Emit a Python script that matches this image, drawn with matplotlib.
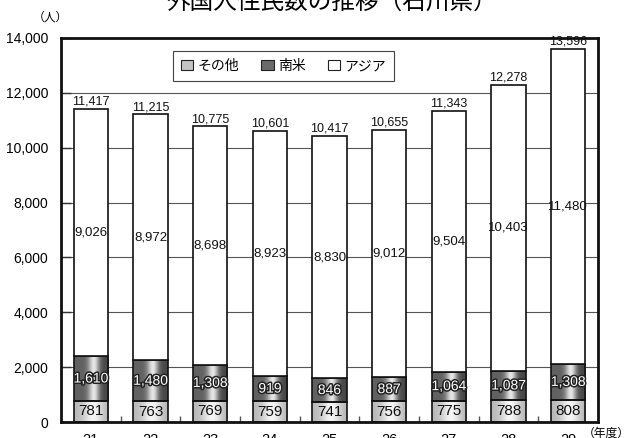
import numpy as np
import matplotlib
matplotlib.use("Agg")
import matplotlib.pyplot as plt
import matplotlib.patheffects as pe
from matplotlib.patches import Patch

plt.rcParams['font.family'] = ['Liberation Sans', 'Noto Sans CJK JP', 'DejaVu Sans']

# ---- data ----
years = ["21", "22", "23", "24", "25", "26", "27", "28", "29"]
other = [781, 763, 769, 759, 741, 756, 775, 788, 808]
south_america = [1610, 1480, 1308, 919, 846, 887, 1064, 1087, 1308]
asia = [9026, 8972, 8698, 8923, 8830, 9012, 9504, 10403, 11480]
series_names = ["その他", "南米", "アジア"]
yticks = [0, 2000, 4000, 6000, 8000, 10000, 12000, 14000]

title = "外国人住民数の推移（石川県）"

W, H = 624, 438
fig = plt.figure(figsize=(W / 100, H / 100), dpi=100)
ax = fig.add_axes([61 / W, 16 / H, 537 / W, 384 / H])

x = np.arange(len(years))
other_a = np.array(other)
sa_a = np.array(south_america)
asia_a = np.array(asia)
totals = other_a + sa_a + asia_a
bw = 0.57


def gradient(bars, dark, light, center=0.55, sigma=0.2, dark_r=None):
    if dark_r is None:
        dark_r = dark
    t = np.linspace(0, 1, 64)
    g = np.exp(-((t - center) / sigma) ** 2)
    edge = np.where(t < center, dark, dark_r)
    vals = edge + (light - edge) * g
    img = np.repeat(vals[None, :], 2, axis=0)
    for b in bars:
        x0, y0 = b.get_x(), b.get_y()
        w, h = b.get_width(), b.get_height()
        ax.imshow(img, extent=[x0, x0 + w, y0, y0 + h], aspect='auto',
                  cmap='gray', vmin=0, vmax=1, zorder=2, interpolation='bilinear')


b_other = ax.bar(x, other_a, bw, facecolor='none', edgecolor='#111111', linewidth=1.2, zorder=3)
b_sa = ax.bar(x, sa_a, bw, bottom=other_a, facecolor='none', edgecolor='#111111', linewidth=1.2, zorder=3)
b_asia = ax.bar(x, asia_a, bw, bottom=other_a + sa_a, facecolor='white', edgecolor='#111111', linewidth=1.2, zorder=3)

gradient(b_other, 0.72, 0.96, center=0.55, sigma=0.28, dark_r=0.70)
gradient(b_sa, 0.38, 0.90, center=0.57, sigma=0.16, dark_r=0.28)

# labels
for i in range(len(years)):
    ax.text(x[i], other_a[i] / 2, f"{other_a[i]:,}", ha='center', va='center',
            fontsize=11, color='#111111', zorder=4)
    ax.text(x[i], other_a[i] + sa_a[i] / 2, f"{sa_a[i]:,}", ha='center', va='center',
            fontsize=10, color='white', zorder=4,
            path_effects=[pe.withStroke(linewidth=2.2, foreground='#222222')])
    ax.text(x[i], other_a[i] + sa_a[i] + asia_a[i] / 2, f"{asia_a[i]:,}", ha='center',
            va='center', fontsize=9.5, color='#111111', zorder=4)
    ax.text(x[i], totals[i] + 50, f"{totals[i]:,}", ha='center', va='bottom',
            fontsize=9, color='#111111', zorder=4)

ax.set_xlim(-0.5, len(years) - 0.5)
ax.set_ylim(0, 14000)
ax.set_yticks(yticks)
ax.set_yticklabels([f"{v:,}" for v in yticks], fontsize=10)
ax.set_xticks(x)
ax.set_xticklabels(years, fontsize=10.5)
ax.set_xticks(np.arange(len(years) - 1) + 0.5, minor=True)
ax.tick_params(axis='x', which='major', length=0, pad=8)
ax.tick_params(axis='x', which='minor', direction='in', length=4, width=1, color='#555555')
ax.tick_params(axis='y', which='major', direction='in', length=7, width=1, pad=9, color='#333333')

ax.yaxis.grid(True, color='#555555', linewidth=0.8)
ax.set_axisbelow(True)
for s in ax.spines.values():
    s.set_linewidth(2)
    s.set_color('#111111')

handles = [Patch(facecolor='#c4c4c4', edgecolor='#222222', linewidth=0.8),
           Patch(facecolor='#6a6a6a', edgecolor='#222222', linewidth=0.8),
           Patch(facecolor='white', edgecolor='#222222', linewidth=0.8)]
leg = ax.legend(handles, series_names, loc='center', bbox_to_anchor=(0.414, 0.927), ncol=3,
                fancybox=False, frameon=True, edgecolor='#444444', framealpha=1,
                prop={'family': ['Noto Sans CJK JP'], 'size': 10},
                handlelength=0.9, handleheight=0.7, handletextpad=0.3,
                columnspacing=1.6, borderpad=0.55)
leg.get_frame().set_linewidth(0.8)
leg.set_zorder(5)

fig.text(332 / W, 1 - 2 / H, title, ha='center', va='center', fontsize=17,
         family=['Noto Sans CJK JP'])
fig.text(50 / W, 1 - 17 / H, "（人）", ha='center', va='center', fontsize=8.5,
         family=['Noto Sans CJK JP'])
fig.text(606 / W, 1 - 433 / H, "（年度）", ha='center', va='center', fontsize=8.5,
         family=['Noto Sans CJK JP'])

fig.savefig("out.png", dpi=100)
